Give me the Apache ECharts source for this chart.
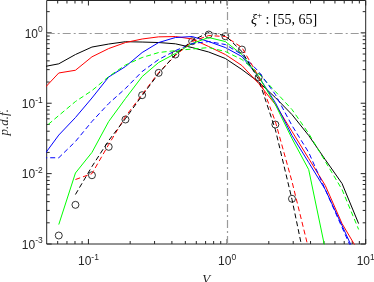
<!DOCTYPE html>
<html>
<head>
<meta charset="utf-8">
<script src="https://cdn.jsdelivr.net/npm/echarts@6/dist/echarts.min.js"></script>
<style>html,body{margin:0;padding:0;background:#fff;}#c{width:374px;height:282px;}</style>
</head>
<body>
<div id="c"></div>
<script>
// bin centres of V (log-spaced)
const V = [0.0464, 0.0611, 0.0806, 0.106, 0.140, 0.185, 0.244, 0.321, 0.424, 0.560, 0.737, 0.972, 1.28, 1.69, 2.23, 2.94, 3.88, 5.11, 6.75, 8.89];

const blackSolid = [0.327, 0.363, 0.492, 0.628, 0.693, 0.748, 0.740, 0.728, 0.698, 0.618, 0.534, 0.432, 0.301, 0.200, 0.1205, 0.069, 0.0348, 0.0158, 0.00723, 0.00195];
const redSolid   = [0.151, 0.269, 0.294, 0.456, 0.598, 0.728, 0.817, 0.877, 0.886, 0.817, 0.639, 0.492, 0.343, 0.1905, 0.0959, 0.0397, 0.0164, 0.00678, 0.00195, 0.00078];
const blueSolid  = [0.0169, 0.0353, 0.0626, 0.1186, 0.236, 0.332, 0.525, 0.728, 0.858, 0.886, 0.752, 0.618, 0.460, 0.239, 0.102, 0.0348, 0.0144, 0.00594, 0.00183, 0.00056];
const greenSolid = [null, 0.00189, 0.0102, 0.0200, 0.0550, 0.1166, 0.239, 0.379, 0.508, 0.705, 0.858, 0.752, 0.492, 0.239, 0.0959, 0.0315, 0.0114, 0.00084, null, null];
const greenDashed = [0.0423, 0.0669, 0.1057, 0.151, 0.239, 0.349, 0.446, 0.525, 0.559, 0.589, 0.618, 0.543, 0.418, 0.264, 0.1466, 0.0814, 0.0372, 0.0149, 0.00594, 0.00161];
const blueDashed = [0.0168, 0.0168, 0.0286, 0.0550, 0.0990, 0.162, 0.282, 0.418, 0.559, 0.705, 0.752, 0.682, 0.492, 0.282, 0.133, 0.0482, 0.0200, 0.00594, 0.00172, 0.00051];
const redDashed  = [null, null, 0.00824, 0.0100, 0.0259, 0.0647, 0.133, 0.273, 0.476, 0.752, 0.915, 0.886, 0.618, 0.239, 0.0550, 0.00772, 0.00084, null, null, null];
const blackDashed = [null, null, 0.00505, 0.0126, 0.0295, 0.0605, 0.1286, 0.264, 0.492, 0.777, 1.01, 0.915, 0.543, 0.217, 0.0423, 0.00429, 0.00031, null, null, null];
const circles    = [null, 0.00132, 0.00360, 0.00948, 0.0240, 0.0587, 0.130, 0.270, 0.492, 0.760, 0.946, 0.895, 0.579, 0.234, 0.0498, 0.00439, null, null, null, null];

// tick positions
const xMajorTicks = [0.1, 1, 10];
const xMinorTicks = [0.06, 0.07, 0.08, 0.09, 0.2, 0.3, 0.4, 0.5, 0.6, 0.7, 0.8, 0.9, 2, 3, 4, 5, 6, 7, 8, 9];
const yMajorTicks = [0.001, 0.01, 0.1, 1];
const yMinorTicks = [0.002, 0.003, 0.004, 0.005, 0.006, 0.007, 0.008, 0.009, 0.02, 0.03, 0.04, 0.05, 0.06, 0.07, 0.08, 0.09, 0.2, 0.3, 0.4, 0.5, 0.6, 0.7, 0.8, 0.9, 2];

const pairs = arr => V.map((v, i) => [v, arr[i]]);

const tickData = [];
xMajorTicks.forEach(v => tickData.push([v, 1, 0, 1]));
xMinorTicks.forEach(v => tickData.push([v, 1, 0, 0]));
yMajorTicks.forEach(v => tickData.push([1, v, 1, 1]));
yMinorTicks.forEach(v => tickData.push([1, v, 1, 0]));

const AX = '#262626';
const labelFmt = v => {
  const l = Math.log10(v);
  const e = Math.round(l);
  if (Math.abs(l - e) > 1e-6) return '';
  return '{b|10}{s|' + e + '}';
};
const rich = {
  b: { fontSize: 12, fontFamily: 'Liberation Sans', color: AX, verticalAlign: 'bottom' },
  s: { fontSize: 8.5, fontFamily: 'Liberation Sans', color: AX, verticalAlign: 'bottom', padding: [0, 0, 6, 0] }
};

function line(name, data, color, dashed) {
  return {
    name, type: 'line', data: pairs(data), showSymbol: false, symbol: 'none',
    connectNulls: false, clip: true, animation: false,
    lineStyle: { color, width: 1, type: dashed ? [5, 3] : 'solid' },
    itemStyle: { color }
  };
}

const chart = echarts.init(document.getElementById('c'));
chart.setOption({
  animation: false,
  grid: { left: 46.7, right: 8.3, top: 0.5, bottom: 38, outerBoundsMode: 'none', containLabel: false, show: true, borderColor: AX, borderWidth: 1, backgroundColor: 'transparent' },
  xAxis: {
    type: 'log', min: 0.05, max: 10, logBase: 10,
    axisLine: { show: false }, axisTick: { show: false }, splitLine: { show: false }, minorTick: { show: false },
    axisLabel: { formatter: labelFmt, rich, margin: 9, showMinLabel: true, showMaxLabel: true },
    name: 'V', nameLocation: 'middle', nameGap: 27,
    nameTextStyle: { fontFamily: 'Liberation Serif', fontStyle: 'italic', fontSize: 13, color: AX }
  },
  yAxis: {
    type: 'log', min: 0.001, max: 2.88, logBase: 10,
    axisLine: { show: false }, axisTick: { show: false }, splitLine: { show: false }, minorTick: { show: false },
    axisLabel: { formatter: labelFmt, rich, margin: 4 },
    name: 'p.d.f.', nameLocation: 'middle', nameGap: 33,
    nameTextStyle: { fontFamily: 'Liberation Serif', fontStyle: 'italic', fontSize: 13, color: AX }
  },
  graphic: [{
    type: 'text', left: 251, top: 11,
    style: {
      text: '{i|ξ}{s|+}{n| : [55, 65]}',
      rich: {
        i: { fontFamily: 'Liberation Serif', fontStyle: 'italic', fontSize: 14, fill: '#000', verticalAlign: 'bottom' },
        s: { fontFamily: 'Liberation Serif', fontSize: 9, fill: '#000', verticalAlign: 'bottom', padding: [0, 0, 7, 0] },
        n: { fontFamily: 'Liberation Serif', fontSize: 14, fill: '#000', verticalAlign: 'bottom' }
      }
    }
  }],
  series: [
    {
      type: 'line', data: [], silent: true, symbol: 'none',
      markLine: {
        silent: true, symbol: 'none', label: { show: false },
        lineStyle: { color: '#9a9a9a', width: 1.2, type: [8, 3, 2, 3] },
        data: [{ xAxis: 1 }, { yAxis: 1 }]
      }
    },
    line('blackSolid', blackSolid, '#000000', false),
    line('redSolid', redSolid, '#ff0000', false),
    line('blueSolid', blueSolid, '#0000ff', false),
    line('greenSolid', greenSolid, '#00ff00', false),
    line('greenDashed', greenDashed, '#00ff00', true),
    line('blueDashed', blueDashed, '#0000ff', true),
    line('redDashed', redDashed, '#ff0000', true),
    line('blackDashed', blackDashed, '#000000', true),
    {
      name: 'circles', type: 'scatter', data: pairs(circles).filter(p => p[1] != null),
      symbol: 'circle', symbolSize: 7,
      itemStyle: { color: 'rgba(0,0,0,0)', borderColor: '#000', borderWidth: 1 }
    },
    {
      type: 'custom', silent: true, data: tickData, encode: { x: 0, y: 1 },
      renderItem: (params, api) => {
        const cs = params.coordSys;
        const isY = api.value(2) === 1;
        const len = api.value(3) === 1 ? 5 : 3;
        const st = { stroke: AX, lineWidth: 1 };
        if (!isY) {
          const x = api.coord([api.value(0), 1])[0];
          return { type: 'group', children: [
            { type: 'line', shape: { x1: x, y1: cs.y + cs.height, x2: x, y2: cs.y + cs.height - len }, style: st },
            { type: 'line', shape: { x1: x, y1: cs.y, x2: x, y2: cs.y + len }, style: st }
          ] };
        } else {
          const y = api.coord([1, api.value(1)])[1];
          return { type: 'group', children: [
            { type: 'line', shape: { x1: cs.x, y1: y, x2: cs.x + len, y2: y }, style: st },
            { type: 'line', shape: { x1: cs.x + cs.width, y1: y, x2: cs.x + cs.width - len, y2: y }, style: st }
          ] };
        }
      }
    }
  ]
});
</script>
</body>
</html>
